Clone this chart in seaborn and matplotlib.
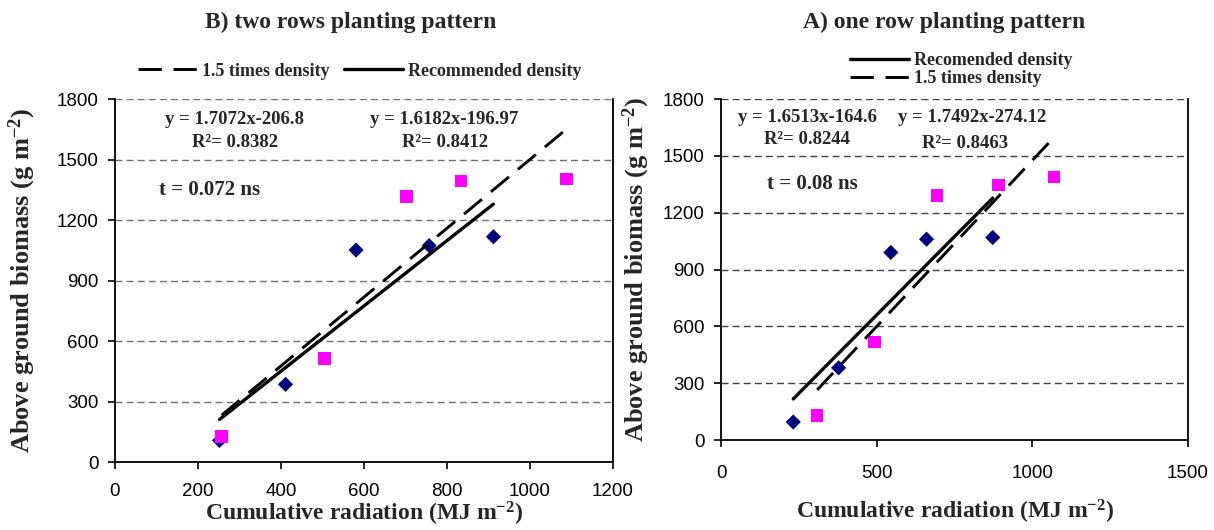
import matplotlib
matplotlib.use("Agg")
import matplotlib.pyplot as plt
import numpy as np
import pandas as pd
import seaborn as sns

# ---- data -----------------------------------------------------------------
# B) two rows planting pattern (left panel)
two_rec_x = [252, 411, 581, 757, 912]
two_rec_y = [107, 385, 1051, 1073, 1117]
two_high_x = [257, 505, 703, 834, 1088]
two_high_y = [127, 513, 1316, 1393, 1402]
two_rec_fit = (1.6182, -196.97)
two_high_fit = (1.7072, -206.8)

# A) one row planting pattern (right panel)
one_rec_x = [231, 377, 545, 660, 873]
one_rec_y = [95, 381, 990, 1060, 1069]
one_high_x = [308, 493, 693, 891, 1071]
one_high_y = [129, 517, 1290, 1347, 1388]
one_rec_fit = (1.6513, -164.6)
one_high_fit = (1.7492, -274.12)

two_notes = [
    ("y = 1.7072x-206.8", 287, 1696),
    ("R²= 0.8382", 289, 1582),
    ("y = 1.6182x-196.97", 793, 1696),
    ("R²= 0.8412", 795, 1582),
]
one_notes = [
    ("y = 1.6513x-164.6", 277, 1700),
    ("R²= 0.8244", 275, 1584),
    ("y = 1.7492x-274.12", 806, 1700),
    ("R²= 0.8463", 783, 1563),
]

BLUE = "#000080"
MAGENTA = "#FF00FF"
SERIF = "Liberation Serif"
SANS = "Liberation Sans"
DASHES = (8, 4)

sns.set_style("white")
plt.rcParams["font.family"] = [SANS, "DejaVu Sans"]
plt.rcParams["mathtext.fontset"] = "custom"
plt.rcParams["mathtext.rm"] = "Liberation Serif:bold"
plt.rcParams["mathtext.bf"] = "Liberation Serif:bold"
plt.rcParams["mathtext.it"] = "Liberation Serif:bold:italic"


def _fit_line(x, coef):
    xs = np.array([min(x), max(x)], dtype=float)
    return pd.DataFrame({"x": xs, "y": coef[0] * xs + coef[1]})


def _panel(ax, rec_x, rec_y, high_x, high_y, rec_fit, high_fit, xmax, xstep,
           notes, t_text, t_pos, grid_color, xpad):
    sns.scatterplot(x=rec_x, y=rec_y, marker="D", color=BLUE, s=60, edgecolor="none", ax=ax, zorder=3)
    sns.scatterplot(x=high_x, y=high_y, marker="s", color=MAGENTA, s=80, edgecolor="none", ax=ax, zorder=3)

    sns.lineplot(data=_fit_line(rec_x, rec_fit), x="x", y="y", color="black", lw=2.4, ax=ax, zorder=4)
    rec_line = ax.lines[-1]
    sns.lineplot(data=_fit_line(high_x, high_fit), x="x", y="y", color="black", lw=2.1, ax=ax, zorder=4)
    high_line = ax.lines[-1]
    high_line.set_dashes(DASHES)

    ax.set_xlim(0, xmax)
    ax.set_ylim(0, 1800)
    ax.set_xticks(np.arange(0, xmax + 1, xstep))
    ax.set_yticks(np.arange(0, 1801, 300))
    for yv in np.arange(300, 1801, 300):
        ax.axhline(yv, color=grid_color, lw=1.0, dashes=(5, 3), zorder=1)

    for side in ["left", "bottom", "right"]:
        ax.spines[side].set_visible(True)
        ax.spines[side].set_color("black")
        ax.spines[side].set_linewidth(1.3)
    ax.spines["top"].set_visible(False)
    ax.tick_params(axis="both", direction="out", length=5, width=1.2, colors="black",
                   labelsize=13.5, left=True, bottom=True)
    ax.tick_params(axis="y", pad=7)
    ax.tick_params(axis="x", pad=xpad)

    for txt, x, y in notes:
        ax.text(x, y, txt, ha="center", va="center", fontsize=13.5, fontweight="bold", family=SERIF)
    ax.text(t_pos[0], t_pos[1], t_text, ha="left", va="center", fontsize=15, fontweight="bold", family=SERIF)

    ax.set_xlabel("Cumulative radiation (MJ m$^{-2}$)", fontsize=17, fontweight="bold", family=SERIF)
    ax.set_ylabel("Above ground biomass (g m$^{-2}$)", fontsize=19, fontweight="bold", family=SERIF)
    return rec_line, high_line


def main():
    fig = plt.figure(figsize=(12.14, 5.30), dpi=100)
    ax_l = fig.add_axes([0.0947, 0.1283, 0.4102, 0.6849])
    ax_r = fig.add_axes([0.5943, 0.1698, 0.3839, 0.6434])

    rec_l, high_l = _panel(ax_l, two_rec_x, two_rec_y, two_high_x, two_high_y,
                           two_rec_fit, two_high_fit, 1200, 200, two_notes,
                           "t = 0.072 ns", (106, 1349), "#707070", 10)
    rec_r, high_r = _panel(ax_r, one_rec_x, one_rec_y, one_high_x, one_high_y,
                           one_rec_fit, one_high_fit, 1500, 500, one_notes,
                           "t = 0.08 ns", (146, 1352), "#404040", 13)

    ax_l.yaxis.set_label_coords(-0.155, 0.5)
    ax_l.xaxis.set_label_coords(0.5, -0.103)
    ax_r.yaxis.set_label_coords(-0.15, 0.5)
    ax_r.xaxis.set_label_coords(0.5, -0.17)

    fig.text(0.289, 0.958, "B) two rows planting pattern", ha="center", va="center",
             fontsize=17, fontweight="bold", family=SERIF)
    fig.text(0.778, 0.958, "A) one row planting pattern", ha="center", va="center",
             fontsize=17, fontweight="bold", family=SERIF)

    legend_font = {"family": SERIF, "weight": "bold", "size": 13}
    fig.legend([high_l, rec_l], ["1.5 times density", "Recommended density"],
               loc="center", bbox_to_anchor=(0.2965, 0.866), ncol=2, frameon=False,
               handlelength=3.25, handletextpad=0.3, columnspacing=0.8, prop=legend_font)
    fig.legend([rec_r, high_r], ["Recomended density", "1.5 times density"],
               loc="center", bbox_to_anchor=(0.792, 0.869), ncol=1, frameon=False,
               handlelength=3.25, handletextpad=0.3, labelspacing=0.05, prop=legend_font,
               borderpad=0.1)

    fig.savefig("out.png", dpi=100)
    plt.close(fig)


if __name__ == "__main__":
    main()
